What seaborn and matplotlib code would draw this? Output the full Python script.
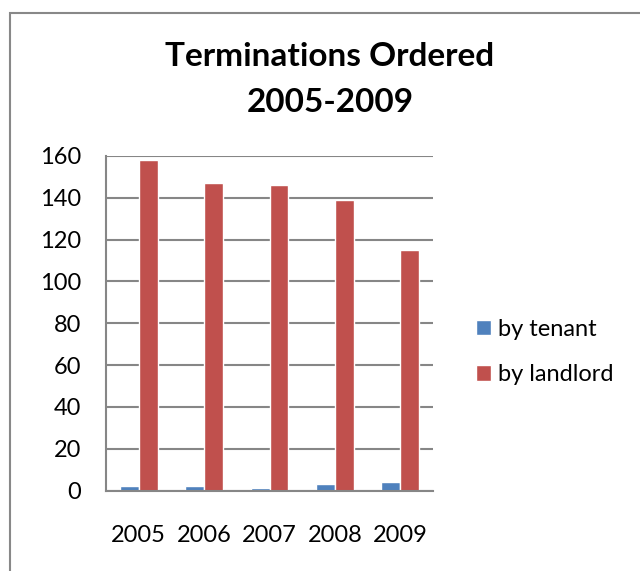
import matplotlib
matplotlib.use("Agg")
import matplotlib.pyplot as plt
import seaborn as sns
import pandas as pd
from matplotlib.patches import Rectangle

years = ["2005", "2006", "2007", "2008", "2009"]
by_tenant = [2, 2, 1, 3, 4]
by_landlord = [158, 147, 146, 139, 115]
series_names = ["by tenant", "by landlord"]
colors = ["#4F81BD", "#C0504D"]
yticks = [0, 20, 40, 60, 80, 100, 120, 140, 160]

df = pd.DataFrame({
    "year": years * 2,
    "value": by_tenant + by_landlord,
    "series": [series_names[0]] * len(years) + [series_names[1]] * len(years),
})

sns.set_theme(style="white")
plt.rcParams["font.family"] = ["Lato", "DejaVu Sans"]
plt.rcParams["text.color"] = "black"

fig = plt.figure(figsize=(6.4, 5.71), dpi=100)
ax = fig.add_axes([106 / 640, 1 - 490.5 / 571, 327 / 640, 334.5 / 571])

sns.barplot(data=df, x="year", y="value", hue="series", order=years,
            hue_order=series_names, palette=colors, width=0.58, gap=0,
            saturation=1, ax=ax, legend=True)

ax.set_ylim(0, 160)
ax.set_yticks(yticks)
ax.set_xlim(-0.5, len(years) - 0.5)
ax.set_xlabel("")
ax.set_ylabel("")
ax.grid(axis="y", color="#868686", linewidth=1.5)
ax.set_axisbelow(True)
for s in ["top", "right"]:
    ax.spines[s].set_visible(False)
for s in ["left", "bottom"]:
    ax.spines[s].set_color("#868686")
    ax.spines[s].set_linewidth(1.5)
ax.tick_params(axis="y", length=0, pad=18, labelsize=17, colors="black")
ax.tick_params(axis="x", length=0, pad=25, labelsize=17, colors="black")

handles, labels = ax.get_legend_handles_labels()
ax.get_legend().remove()
leg = fig.legend(handles, labels, loc="center left",
                 bbox_to_anchor=(476 / 640, 1 - 352 / 571), frameon=False,
                 fontsize=17, handlelength=0.62, handleheight=0.62,
                 handletextpad=0.3, labelspacing=1.05, borderpad=0,
                 borderaxespad=0)
for t in leg.get_texts():
    t.set_color("black")

fig.text(330 / 640, 1 - 57 / 571, "Terminations Ordered", ha="center",
         va="center", fontsize=24, fontweight="bold", color="black")
fig.text(330 / 640, 1 - 103 / 571, "2005-2009", ha="center",
         va="center", fontsize=24, fontweight="bold", color="black")

fig.patches.append(Rectangle((10 / 640, -0.1), 2, 1.1 - 13 / 571,
                             transform=fig.transFigure, fill=False,
                             edgecolor="#888888", linewidth=1.5))

fig.savefig("out.png", dpi=100)
